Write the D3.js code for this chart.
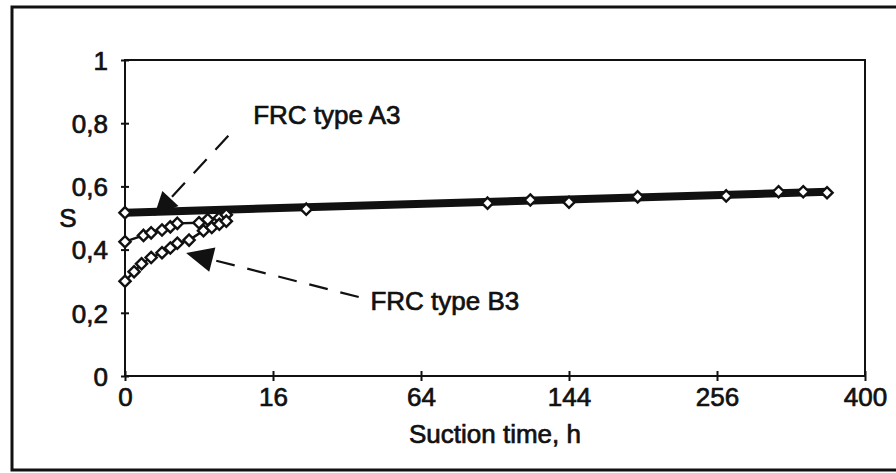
<!DOCTYPE html>
<meta charset="utf-8">
<style>
body { margin: 0; background: #fff; }
text { font-family: "Liberation Sans", Arial, sans-serif; font-size: 26px; fill: #111; stroke: #111; stroke-width: 0.7px; }
.axis path, .axis line { stroke: #111; stroke-width: 2; }
</style>
<svg id="chart" width="896" height="473"></svg>
<script src="https://cdn.jsdelivr.net/npm/d3@7"></script>
<script>

// long term points, sitting on the thick fitted line
const longT = [0, 24, 96, 120, 144, 192, 264, 312, 336, 360]
const longS = [0.517, 0.528, 0.547, 0.557, 0.550, 0.567, 0.570, 0.583, 0.583, 0.580]

// fitted line ends
const fitT = [0, 361]
const fitS = [0.517, 0.583]

// FRC type A3, early suction
const a3T = [0, 0.25, 0.5, 1, 1.5, 2, 4, 5, 6.5, 7.5]
const a3S = [0.425, 0.445, 0.453, 0.462, 0.472, 0.483, 0.485, 0.495, 0.50, 0.51]

// FRC type B3, early suction
const b3T = [0, 0.06, 0.2, 0.5, 1, 1.5, 2, 3, 4.5, 5.5, 6.5, 7.5]
const b3S = [0.30, 0.33, 0.355, 0.375, 0.39, 0.405, 0.42, 0.43, 0.46, 0.47, 0.48, 0.49]

const xTicks = [0, 16, 64, 144, 256, 400]
const yTicks = [0, 0.2, 0.4, 0.6, 0.8, 1]

// annotations in data units: tip, tail and label position as [t, S]
const annA3 = {tip: [0.62, 0.506], tail: [7.8, 0.76], label: [12, 0.797], text: "FRC type A3", len: 24, half: 11}
const annB3 = {tip: [2.73, 0.389], tail: [39.9, 0.25], label: [44, 0.209], text: "FRC type B3", len: 27, half: 12.5}

const margin = {top: 60, right: 31, bottom: 97, left: 125},
    width = 896 - margin.left - margin.right,
    height = 473 - margin.top - margin.bottom

const svg = d3.select("#chart")

// outer frame (right edge runs off the picture)
svg.append("rect")
    .attr("x", 12).attr("y", 7)
    .attr("width", 900).attr("height", 463)
    .attr("fill", "none").attr("stroke", "#111").attr("stroke-width", 3)

const g = svg.append("g")
    .attr("transform", `translate(${margin.left}, ${margin.top})`)

const x = d3.scalePow().exponent(0.5).domain([0, 400]).range([0, width])
const y = d3.scaleLinear().domain([0, 1]).range([height, 0])

// plot frame
g.append("rect")
    .attr("width", width).attr("height", height)
    .attr("fill", "none").attr("stroke", "#111").attr("stroke-width", 2)

const fmt = d => d3.format("~g")(d).replace(".", ",")

const yAxis = g.append("g").attr("class", "axis")
    .call(d3.axisLeft(y).tickValues(yTicks).tickFormat(fmt).tickSize(0).tickPadding(17))
yAxis.selectAll(".tick line").attr("x1", -4).attr("x2", 4)
yAxis.selectAll(".tick text").attr("dy", "0.36em")

const xAxis = g.append("g").attr("class", "axis")
    .attr("transform", `translate(0, ${height})`)
    .call(d3.axisBottom(x).tickValues(xTicks).tickFormat(d3.format("d")).tickSize(0).tickPadding(12))
xAxis.selectAll(".tick line").attr("y1", -5).attr("y2", 5)
xAxis.selectAll(".tick text").attr("dy", "0.71em")
xAxis.select(".domain").remove()
yAxis.select(".domain").remove()
g.append("line").attr("x1", 0).attr("x2", width).attr("y1", height).attr("y2", height)
    .attr("stroke", "#111").attr("stroke-width", 2)
g.append("line").attr("x1", 0).attr("x2", 0).attr("y1", 0).attr("y2", height)
    .attr("stroke", "#111").attr("stroke-width", 2)

// axis titles
g.append("text")
    .attr("x", -57).attr("y", y(0.5) + 9)
    .attr("text-anchor", "middle")
    .text("S")
g.append("text")
    .attr("x", width / 2).attr("y", height + 67)
    .attr("text-anchor", "middle")
    .text("Suction time, h")

// annotation arrows, dashed with a filled head
function drawArrow(a) {
  const tx = x(a.tip[0]), ty = y(a.tip[1])
  const sx = x(a.tail[0]), sy = y(a.tail[1])
  const dx = sx - tx, dy = sy - ty, d = Math.hypot(dx, dy)
  const ux = dx / d, uy = dy / d
  const bx = tx + ux * a.len, by = ty + uy * a.len
  g.append("line")
      .attr("x1", sx).attr("y1", sy).attr("x2", bx).attr("y2", by)
      .attr("stroke", "#111").attr("stroke-width", 2.2)
      .attr("stroke-dasharray", "19,13")
  g.append("path")
      .attr("d", `M${tx},${ty}L${bx - uy * a.half},${by + ux * a.half}L${bx + uy * a.half},${by - ux * a.half}Z`)
      .attr("fill", "#111")
  g.append("text")
      .attr("x", x(a.label[0])).attr("y", y(a.label[1]))
      .text(a.text)
}
drawArrow(annA3)
drawArrow(annB3)

const line = d3.line().x(d => x(d[0])).y(d => y(d[1]))

// thick fitted line
g.append("path")
    .attr("d", line(d3.zip(fitT, fitS)))
    .attr("fill", "none").attr("stroke", "#111").attr("stroke-width", 8)

// early series lines
;[[a3T, a3S], [b3T, b3S]].forEach(([t, s]) => {
  g.append("path")
      .attr("d", line(d3.zip(t, s)))
      .attr("fill", "none").attr("stroke", "#111").attr("stroke-width", 2.4)
})

const diamond = d3.symbol().type(d3.symbolDiamond2).size(80)

;[[a3T, a3S], [b3T, b3S], [longT, longS]].forEach(([t, s]) => {
  g.append("g").selectAll("path")
    .data(d3.zip(t, s))
    .join("path")
      .attr("d", diamond)
      .attr("transform", d => `translate(${x(d[0])}, ${y(d[1])})`)
      .attr("fill", "#fff").attr("stroke", "#111").attr("stroke-width", 2.4)
})

</script>
